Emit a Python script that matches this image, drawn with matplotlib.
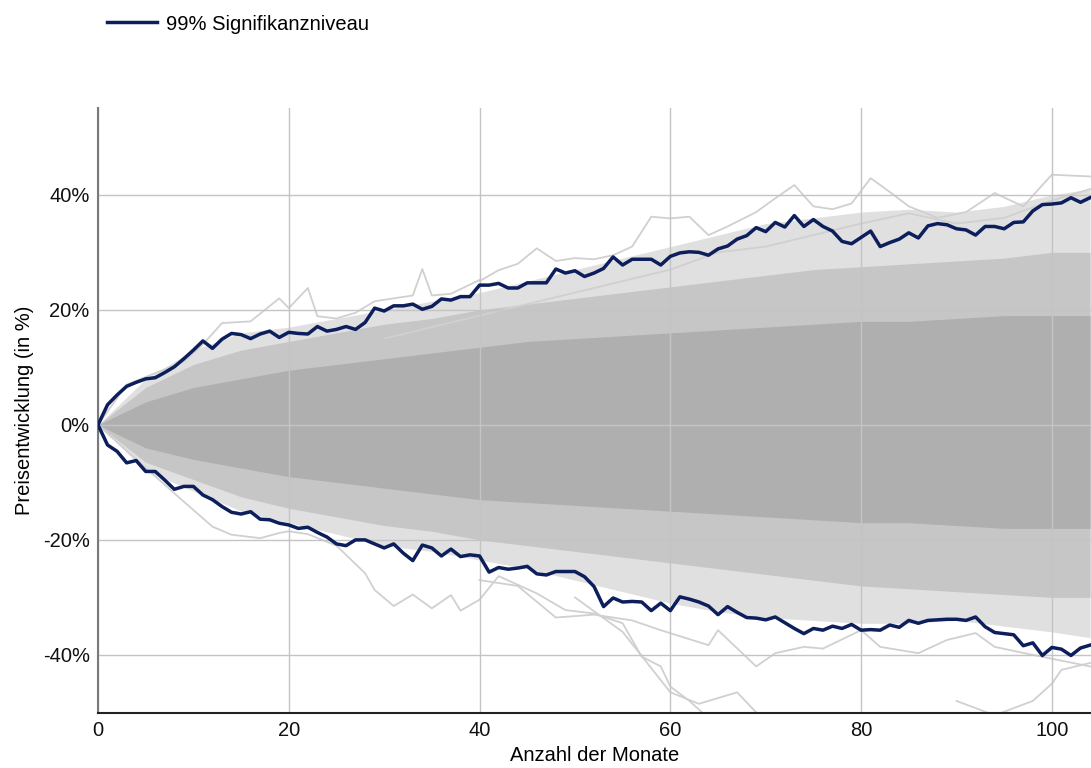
import numpy as np
import matplotlib
matplotlib.use("Agg")
import matplotlib.pyplot as plt
from matplotlib.ticker import FuncFormatter

plt.rcParams['font.family'] = ['Liberation Sans', 'DejaVu Sans']

# navy 99% bands, read month by month (in %)
monate = np.arange(0, 105)
oben = [0, 3.5, 5.2, 6.7, 7.4, 8.0, 8.2, 9.1, 10.1, 11.5,
        13.0, 14.6, 13.3, 14.9, 15.9, 15.7, 15.0, 15.8, 16.3, 15.2,
        16.1, 15.9, 15.8, 17.1, 16.3, 16.6, 17.1, 16.6, 17.8, 20.3,
        19.8, 20.7, 20.7, 21.0, 20.1, 20.6, 21.9, 21.7, 22.3, 22.3,
        24.3, 24.3, 24.6, 23.8, 23.8, 24.7, 24.7, 24.7, 27.1, 26.4,
        26.8, 25.8, 26.4, 27.2, 29.2, 27.8, 28.8, 28.8, 28.8, 27.8,
        29.3, 29.9, 30.1, 30.0, 29.5, 30.6, 31.1, 32.3, 32.9, 34.3,
        33.6, 35.2, 34.4, 36.4, 34.5, 35.7, 34.5, 33.7, 31.9, 31.5,
        32.6, 33.7, 31.0, 31.7, 32.3, 33.4, 32.5, 34.6, 35.0, 34.8,
        34.1, 33.9, 33.0, 34.5, 34.5, 34.1, 35.2, 35.3, 37.2, 38.3,
        38.4, 38.6, 39.5, 38.7, 39.5]
unten = [0, -3.5, -4.6, -6.6, -6.2, -8.1, -8.1, -9.6, -11.2, -10.7,
         -10.7, -12.2, -13.0, -14.2, -15.2, -15.5, -15.1, -16.4, -16.5, -17.1,
         -17.4, -18.0, -17.8, -18.7, -19.5, -20.7, -21.0, -20.0, -20.0, -20.7,
         -21.4, -20.7, -22.3, -23.6, -20.9, -21.4, -22.8, -21.6, -22.9, -22.6,
         -22.8, -25.6, -24.8, -25.1, -24.9, -24.6, -25.9, -26.1, -25.5, -25.5,
         -25.5, -26.4, -28.1, -31.6, -30.1, -30.8, -30.7, -30.8, -32.3, -31.0,
         -32.3, -29.9, -30.3, -30.8, -31.5, -33.0, -31.6, -32.6, -33.5, -33.6,
         -33.9, -33.4, -34.4, -35.4, -36.3, -35.4, -35.7, -35.0, -35.4, -34.7,
         -35.7, -35.6, -35.7, -34.8, -35.2, -34.0, -34.5, -34.0, -33.9, -33.8,
         -33.8, -34.0, -33.4, -35.1, -36.1, -36.3, -36.5, -38.4, -37.9, -40.1,
         -38.7, -39.0, -40.1, -38.8, -38.3]

# grey simulation cloud: density zones, estimated every 5 months
zone_x = [0, 5, 10, 15, 20, 25, 30, 35, 40, 45, 50, 55, 60, 65, 70, 75, 80, 85, 90, 95, 100, 104]
kern_hi = [0, 4, 6.5, 8, 9.5, 10.5, 11.5, 12.5, 13.5, 14.5, 15, 15.5, 16, 16.5, 17, 17.5, 18, 18, 18.5, 19, 19, 19]
kern_lo = [0, -4, -6, -7.5, -9, -10, -11, -12, -13, -13.5, -14, -14.5, -15, -15.5, -16, -16.5, -17, -17, -17.5, -18, -18, -18]
mitte_hi = [0, 6.5, 10.5, 13, 14.5, 16, 17.5, 18.5, 20, 21, 22, 23, 24, 25, 26, 27, 27.5, 28, 28.5, 29, 30, 30]
mitte_lo = [0, -6.5, -9.5, -12.5, -14.5, -16, -17.5, -18.5, -20, -21, -22, -23, -24, -25, -26, -27, -28, -28.5, -29, -29.5, -30, -30]
rand_hi = [0, 8, 13, 16, 17, 18.5, 20, 21.5, 23, 25, 27, 29, 31, 33, 35, 36, 37, 37.5, 37, 38, 40, 41]
rand_lo = [0, -8, -11.5, -15, -17, -19, -21, -22, -23.5, -25, -27, -29, -31, -32.5, -33.5, -34, -34.5, -34.5, -34, -35, -36, -37]

# single grey paths that stand out of the cloud
pfade = [
    ([0, 3, 6, 9, 11, 13, 16, 19, 20, 22, 23, 25, 27, 29, 31, 33, 34, 35, 37, 40],
     [0, 7, 9, 11, 14, 17.7, 18, 22, 20.3, 23.8, 18.9, 18.5, 19.5, 21.5, 22, 22.5, 27.1, 22.5, 22.8, 25.2]),
    ([40, 42, 44, 46, 48, 50, 52, 54, 56, 58, 60, 62, 64, 66, 69, 71, 73, 75, 77, 79, 81, 83, 85, 88, 91, 94, 97, 99, 100, 104],
     [25, 26.9, 28, 30.7, 28.5, 29, 28.8, 29.5, 31, 36.2, 35.9, 36.2, 33, 34.5, 37, 39.4, 41.7, 38, 37.5, 38.5, 42.9, 40.5, 38, 36, 37, 40.3, 38, 41.7, 43.5, 43.2]),
    ([30, 40, 50, 60, 65, 70, 75, 80, 85, 90, 95, 100, 104],
     [15, 19, 23, 27, 30, 31, 33, 35, 36.8, 35, 36, 39, 41]),
    ([0, 4, 8, 12, 14, 17, 19, 20, 22, 25, 28, 29, 31, 33, 35, 37, 38, 40, 42, 46, 49, 52, 55, 57, 59, 60, 62, 64],
     [0, -6, -11.9, -17.7, -19.1, -19.7, -18.8, -18.5, -19, -21, -25.8, -28.7, -31.5, -29.5, -31.9, -29.6, -32.3, -30.4, -26.3, -29.3, -32.2, -32.8, -34.5, -40.3, -42, -45.5, -48, -51]),
    ([40, 44, 48, 52, 56, 59, 64, 65, 69, 71, 74, 76, 80, 82, 86, 89, 92, 94, 98, 104],
     [-27, -28, -33.5, -33, -34, -35.7, -38.3, -35.7, -42, -39.7, -38.6, -38.9, -35.7, -38.6, -39.7, -37.4, -36.2, -38.6, -40, -42]),
    ([50, 55, 60, 63, 67, 69, 72],
     [-30, -36, -46.5, -48.5, -46.5, -50, -52]),
    ([90, 94, 98, 100, 101, 104],
     [-48, -50.5, -48, -45, -42.6, -41.4]),
]

fig = plt.figure(figsize=(10.91, 7.68), dpi=100)
ax = fig.add_axes([98 / 1091, 55 / 768, 993 / 1091, 605 / 768])

ax.fill_between(zone_x, rand_lo, rand_hi, color='#e0e0e0', lw=0, zorder=1)
ax.fill_between(zone_x, mitte_lo, mitte_hi, color='#c6c6c6', lw=0, zorder=1.1)
ax.fill_between(zone_x, kern_lo, kern_hi, color='#afafaf', lw=0, zorder=1.2)
for px, py in pfade:
    ax.plot(px, py, color='#d0d0d0', lw=1.3, zorder=1.3)

ax.plot(monate, oben, color='#0c1e5b', lw=2.5, zorder=3, label='99% Signifikanzniveau')
ax.plot(monate, unten, color='#0c1e5b', lw=2.5, zorder=3)

ax.set_xlim(0, 104.1)
ax.set_ylim(-50.1, 55.1)
ax.set_xticks([0, 20, 40, 60, 80, 100])
ax.set_yticks([-40, -20, 0, 20, 40])
ax.yaxis.set_major_formatter(FuncFormatter(lambda v, p: '%d%%' % v))
ax.grid(True, color='#c4c4c4', lw=1.0)
for g in ax.get_xgridlines() + ax.get_ygridlines():
    g.set_zorder(1.5)
ax.tick_params(length=0, labelsize=14.5, pad=6, colors='#111111')

for s in ['top', 'right']:
    ax.spines[s].set_visible(False)
ax.spines['left'].set_color('#7a7a7a')
ax.spines['left'].set_linewidth(1.5)
ax.spines['bottom'].set_color('#222222')
ax.spines['bottom'].set_linewidth(1.5)

ax.set_xlabel('Anzahl der Monate', fontsize=14.5, labelpad=4)
ax.set_ylabel('Preisentwicklung (in %)', fontsize=14.5, labelpad=6)

fig.legend(loc='center left', bbox_to_anchor=(107 / 1091, 1 - 24 / 768), frameon=False,
           fontsize=14.5, handlelength=2.46, handletextpad=0.45, borderpad=0, borderaxespad=0)

fig.savefig('out.png', dpi=100)
